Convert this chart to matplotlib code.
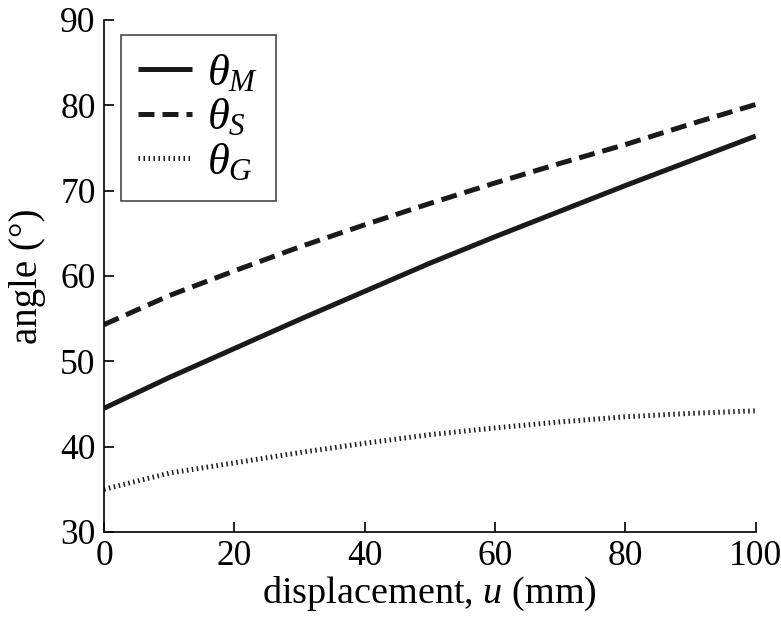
import matplotlib
matplotlib.use("Agg")
import matplotlib.pyplot as plt

plt.rcParams["font.family"] = "Liberation Serif"
plt.rcParams["mathtext.fontset"] = "custom"
plt.rcParams["mathtext.rm"] = "Liberation Serif"
plt.rcParams["mathtext.it"] = "Liberation Serif:italic"

# values
u = [0, 10, 20, 30, 40, 50, 60, 70, 80, 90, 100]
theta_M = [44.5, 48.1, 51.5, 54.9, 58.2, 61.5, 64.6, 67.6, 70.6, 73.5, 76.4]
theta_S = [54.3, 57.7, 60.6, 63.4, 66.0, 68.5, 70.9, 73.2, 75.4, 77.8, 80.1]
theta_G = [35.0, 36.9, 38.1, 39.3, 40.4, 41.4, 42.2, 42.9, 43.5, 43.9, 44.2]

fig = plt.figure(figsize=(7.81, 6.17), dpi=100)
ax = fig.add_axes([0.1332, 0.1378, 0.8344, 0.8298])

ax.plot(u, theta_M, color="#1a1a1a", lw=3.6, solid_capstyle="butt", label=r"$\theta_M$")
ax.plot(u, theta_S, color="#1a1a1a", lw=3.6, linestyle=(0, (3.2, 1.6)),
        dash_capstyle="butt", label=r"$\theta_S$")
ax.plot(u, theta_G, color="#1a1a1a", lw=3.6, linestyle=(0, (0.3, 0.7)),
        dash_capstyle="butt", label=r"$\theta_G$")

ax.set_xlim(0, 100)
ax.set_ylim(30, 90)
ax.set_xticks([0, 20, 40, 60, 80, 100])
ax.set_yticks([30, 40, 50, 60, 70, 80, 90])
ax.spines["top"].set_visible(False)
ax.spines["right"].set_visible(False)
for s in ["left", "bottom"]:
    ax.spines[s].set_linewidth(1.2)
ax.tick_params(direction="in", length=7, width=1.2, labelsize=25.5, pad=6)

ax.set_xlabel(r"displacement, $u$ (mm)", fontsize=27.5, labelpad=1)
ax.set_ylabel("angle (°)", fontsize=28, labelpad=10)

leg = ax.legend(loc="upper left", bbox_to_anchor=(0.0256, 0.9707), borderaxespad=0,
                fontsize=32, frameon=True, fancybox=False, edgecolor="#1a1a1a",
                handlelength=1.2, handletextpad=0.35, labelspacing=0.08, borderpad=0.4)
leg.get_frame().set_linewidth(1.2)

fig.savefig("out.png", dpi=100)
